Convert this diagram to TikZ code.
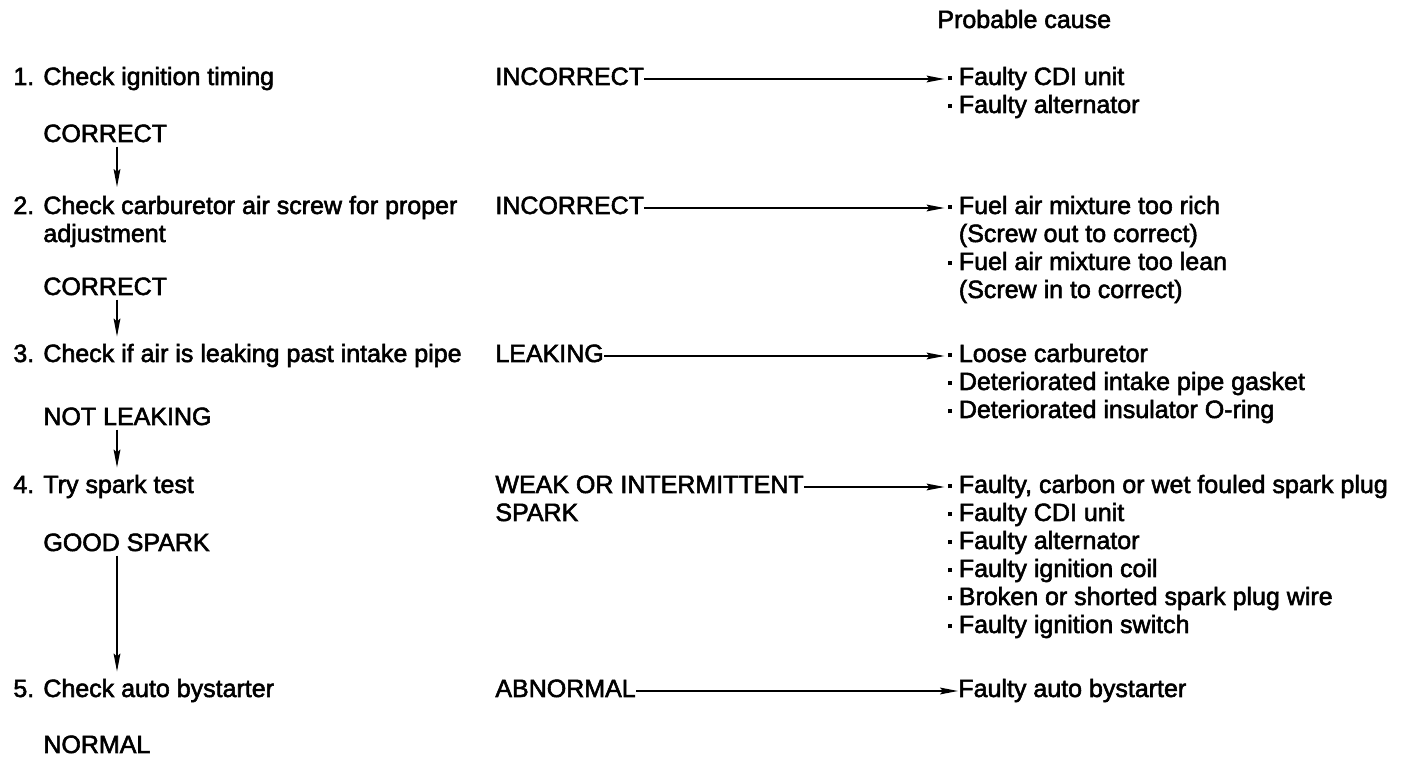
\documentclass[tikz,border=0pt]{standalone}
\usepackage{fontspec}
\setmainfont[FakeBold=2.2]{Liberation Sans}
\usetikzlibrary{arrows.meta}
\newcommand{\punkt}{\raisebox{2.3pt}{\rule{2pt}{2pt}}}

\begin{document}
\begin{tikzpicture}[x=0.5pt, y=-0.5pt,
	txt/.style={anchor=base west, inner sep=0pt, font=\fontsize{12.5}{14}\selectfont},
	pfeil/.style={line width=0.8pt, -{Stealth[length=9pt, width=3.4pt, inset=1.5pt]}},
	runter/.style={pfeil, shorten <=2pt, shorten >=3.5pt}]
	\useasboundingbox (0, 0) rectangle (1415, 758);
	\coordinate (spalte) at (117, 0);

	% Ueberschrift
	\node[txt] (ursache) at (937, 28) {Probable cause};

	% Pruefschritte links
	\node[txt] (nr1) at (13, 85) {1.};
	\node[txt] (schritt1) at (43, 85) {Check ignition timing};
	\node[txt] (korrekt1) at (43, 142) {CORRECT};
	\node[txt] (nr2) at (13, 214) {2.};
	\node[txt] (schritt2) at (43, 214) {\begin{tabular}[t]{@{}l@{}}
		Check carburetor air screw for proper\\ adjustment\end{tabular}};
	\node[txt] (korrekt2) at (43, 295) {CORRECT};
	\node[txt] (nr3) at (13, 362) {3.};
	\node[txt] (schritt3) at (43, 362) {Check if air is leaking past intake pipe};
	\node[txt] (dicht) at (43, 425) {NOT LEAKING};
	\node[txt] (nr4) at (13, 493) {4.};
	\node[txt] (schritt4) at (43, 493) {Try spark test};
	\node[txt] (funke) at (43, 551) {GOOD SPARK};
	\node[txt] (nr5) at (13, 697) {5.};
	\node[txt] (schritt5) at (43, 697) {Check auto bystarter};
	\node[txt] (normal) at (43, 753) {NORMAL};

	% Befunde Mitte
	\node[txt] (befund1) at (495, 85) {INCORRECT};
	\node[txt] (befund2) at (495, 214) {INCORRECT};
	\node[txt] (befund3) at (495, 362) {LEAKING};
	\node[txt] (befund4) at (495, 493) {\begin{tabular}[t]{@{}l@{}}
		WEAK OR INTERMITTENT\\ SPARK\end{tabular}};
	\node[txt] (befund5) at (495, 697) {ABNORMAL};

	% Ursachen rechts
	\node[txt] (liste1) at (947.5, 85) {\begin{tabular}[t]{@{}l@{\hspace{3.5pt}}l@{}}
		\punkt & Faulty CDI unit\\
		\punkt & Faulty alternator\end{tabular}};
	\node[txt] (liste2) at (947.5, 214) {\begin{tabular}[t]{@{}l@{\hspace{3.5pt}}l@{}}
		\punkt & Fuel air mixture too rich\\
		       & (Screw out to correct)\\
		\punkt & Fuel air mixture too lean\\
		       & (Screw in to correct)\end{tabular}};
	\node[txt] (liste3) at (947.5, 362) {\begin{tabular}[t]{@{}l@{\hspace{3.5pt}}l@{}}
		\punkt & Loose carburetor\\
		\punkt & Deteriorated intake pipe gasket\\
		\punkt & Deteriorated insulator O-ring\end{tabular}};
	\node[txt] (liste4) at (947.5, 493) {\begin{tabular}[t]{@{}l@{\hspace{3.5pt}}l@{}}
		\punkt & Faulty, carbon or wet fouled spark plug\\
		\punkt & Faulty CDI unit\\
		\punkt & Faulty alternator\\
		\punkt & Faulty ignition coil\\
		\punkt & Broken or shorted spark plug wire\\
		\punkt & Faulty ignition switch\end{tabular}};
	\node[txt] (liste5) at (958, 697) {Faulty auto bystarter};

	% Pfeile nach unten
	\draw[runter] (korrekt1.south -| spalte) -- (schritt2.north -| spalte);
	\draw[runter] (korrekt2.south -| spalte) -- (schritt3.north -| spalte);
	\draw[runter] (dicht.south -| spalte) -- (schritt4.north -| spalte);
	\draw[runter] (funke.south -| spalte) -- (schritt5.north -| spalte);

	% Pfeile nach rechts
	\foreach \i in {1,...,5}
		\coordinate (zeile\i) at ([yshift=3pt]befund\i.base east);
	\foreach \i in {1,...,4}
		\draw[pfeil, shorten >=1.5pt] (zeile\i) -- (zeile\i -| liste\i.west);
	\draw[pfeil] (zeile5) -- (zeile5 -| liste5.west);
\end{tikzpicture}
\end{document}
